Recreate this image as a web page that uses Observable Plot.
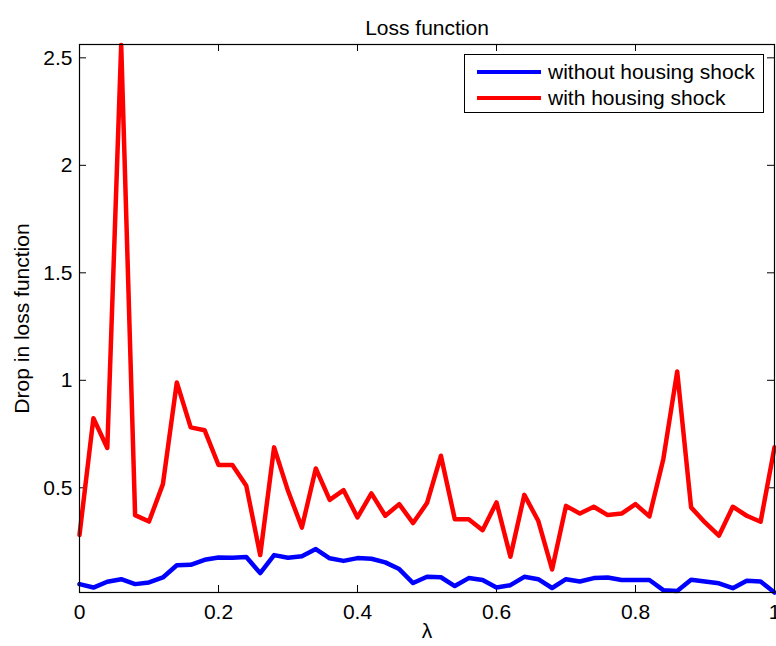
<!DOCTYPE html>
<html>
<head>
<meta charset="utf-8">
<script src="https://cdn.jsdelivr.net/npm/d3@7"></script>
<script src="https://cdn.jsdelivr.net/npm/@observablehq/plot@0.6"></script>
<style>
  html, body { margin: 0; padding: 0; background: #fff; }
  #wrap { position: relative; width: 776px; height: 646px; font-family: "Liberation Sans", Arial, Helvetica, sans-serif; }
  #legend { position: absolute; left: 464px; top: 54px; width: 300px; height: 59px; border: 1px solid #000; background: #fff; box-sizing: border-box; }
  .row { position: absolute; left: 0; height: 24px; display: flex; align-items: center; }
  .sw { width: 64px; height: 4.5px; margin-left: 12px; margin-right: 7px; }
  .lab { font-size: 21px; color: #000; white-space: nowrap; }
</style>
</head>
<body>
<div id="wrap"><div id="legend"></div></div>
<script>
const lambda = [0,0.02,0.04,0.06,0.08,0.1,0.12,0.14,0.16,0.18,0.2,0.22,0.24,0.26,0.28,0.3,0.32,0.34,0.36,0.38,0.4,0.42,0.44,0.46,0.48,0.5,0.52,0.54,0.56,0.58,0.6,0.62,0.64,0.66,0.68,0.7,0.72,0.74,0.76,0.78,0.8,0.82,0.84,0.86,0.88,0.9,0.92,0.94,0.96,0.98,1];
const withShock = [0.281,0.824,0.685,2.56,0.373,0.343,0.517,0.990,0.781,0.768,0.606,0.606,0.509,0.187,0.688,0.486,0.315,0.590,0.444,0.489,0.362,0.474,0.370,0.424,0.336,0.429,0.649,0.354,0.354,0.303,0.432,0.179,0.467,0.347,0.120,0.416,0.380,0.412,0.373,0.380,0.424,0.367,0.633,1.041,0.409,0.339,0.277,0.412,0.370,0.342,0.688];
const withoutShock = [0.052,0.036,0.063,0.075,0.052,0.060,0.083,0.140,0.142,0.165,0.176,0.175,0.178,0.103,0.187,0.175,0.182,0.215,0.172,0.160,0.173,0.170,0.153,0.122,0.057,0.086,0.084,0.043,0.080,0.071,0.036,0.047,0.086,0.075,0.034,0.075,0.064,0.080,0.083,0.071,0.071,0.071,0.024,0.020,0.072,0.064,0.056,0.033,0.068,0.064,0.013];
const seriesNames = ["without housing shock", "with housing shock"];
const seriesColors = ["#0000ff", "#ff0000"];
const xTicks = [0, 0.2, 0.4, 0.6, 0.8, 1];
const xTickLabels = ["0", "0.2", "0.4", "0.6", "0.8", "1"];
const yTicks = [0.5, 1, 1.5, 2, 2.5];
const yTickLabels = ["0.5", "1", "1.5", "2", "2.5"];
const titleText = "Loss function";
const xLabel = "λ";
const yLabel = "Drop in loss function";
const yDomain = [0.013, 2.562];

const blueData = lambda.map((x, i) => ({x, y: withoutShock[i]}));
const redData = lambda.map((x, i) => ({x, y: withShock[i]}));

const W = 776, H = 646;
const mL = 79, mR = 2, mT = 44, mB = 54;
const pw = W - mL - mR, ph = H - mT - mB;
const tl = 7;
const fs = 21;
const font = "Liberation Sans, Arial, Helvetica, sans-serif";

const chart = Plot.plot({
  width: W, height: H,
  marginLeft: mL, marginRight: mR, marginTop: mT, marginBottom: mB,
  style: {fontFamily: font, fontSize: fs + "px", color: "#000", background: "#fff"},
  x: {domain: [0, 1]},
  y: {domain: yDomain},
  marks: [
    Plot.axisX({ticks: xTicks, tickSize: 0, tickPadding: 12, tickFormat: d => xTickLabels[xTicks.indexOf(d)], label: null, fontSize: fs}),
    Plot.axisY({ticks: yTicks, tickSize: 0, tickPadding: 7, tickFormat: d => yTickLabels[yTicks.indexOf(d)], label: null, fontSize: fs}),
    Plot.tickX(xTicks, {x: d => d, insetTop: ph - tl, stroke: "#000", strokeWidth: 1}),
    Plot.tickX(xTicks, {x: d => d, insetBottom: ph - tl, stroke: "#000", strokeWidth: 1}),
    Plot.tickY(yTicks, {y: d => d, insetRight: pw - tl, stroke: "#000", strokeWidth: 1}),
    Plot.tickY(yTicks, {y: d => d, insetLeft: pw - tl, stroke: "#000", strokeWidth: 1}),
    Plot.line(blueData, {x: "x", y: "y", stroke: seriesColors[0], strokeWidth: 4.5, strokeLinejoin: "round"}),
    Plot.line(redData, {x: "x", y: "y", stroke: seriesColors[1], strokeWidth: 4.5, strokeLinejoin: "round"}),
    Plot.frame({stroke: "#000", strokeWidth: 1.2}),
    Plot.text([titleText], {frameAnchor: "top", textAnchor: "middle", dy: -24, fontSize: fs, fill: "#000"}),
    Plot.text([xLabel], {frameAnchor: "bottom", textAnchor: "middle", dy: 45, fontSize: fs, fill: "#000"}),
    Plot.text([yLabel], {frameAnchor: "left", textAnchor: "middle", dx: -57, rotate: -90, fontSize: fs, fill: "#000"})
  ]
});
document.getElementById("wrap").prepend(chart);

const legend = document.getElementById("legend");
seriesNames.forEach((name, i) => {
  const row = document.createElement("div");
  row.className = "row";
  row.style.top = (5 + i * 26) + "px";
  const sw = document.createElement("div");
  sw.className = "sw";
  sw.style.background = seriesColors[i];
  const lab = document.createElement("span");
  lab.className = "lab";
  lab.textContent = name;
  row.appendChild(sw);
  row.appendChild(lab);
  legend.appendChild(row);
});
</script>
</body>
</html>
